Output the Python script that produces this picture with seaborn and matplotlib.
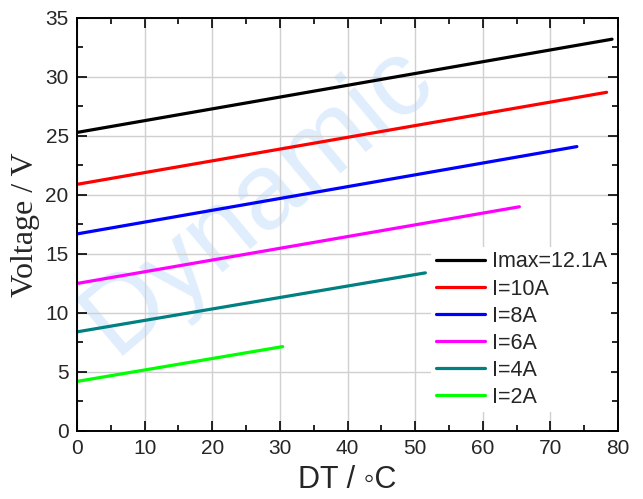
import numpy as np
import pandas as pd
import matplotlib.pyplot as plt
from matplotlib.ticker import MultipleLocator
import seaborn as sns

# ── Data ───────────────────────────────────────────────────────────────────────
labels = ["Imax=12.1A", "I=10A", "I=8A", "I=6A", "I=4A", "I=2A"]
dt_start = [0, 0, 0, 0, 0, 0]
dt_end = [79.1, 78.3, 73.9, 65.4, 51.5, 30.4]
v_start = [25.3, 20.9, 16.7, 12.5, 8.4, 4.2]
v_end = [33.2, 28.7, 24.1, 19.0, 13.4, 7.15]
colors = ["#000000", "#ff0000", "#0000ff", "#ff00ff", "#008080", "#00ff00"]

rows = []
for lab, x0, x1, y0, y1 in zip(labels, dt_start, dt_end, v_start, v_end):
    rows.append({"series": lab, "DT": x0, "V": y0})
    rows.append({"series": lab, "DT": x1, "V": y1})
df = pd.DataFrame(rows)

sns.set_style("white")
plt.rcParams["font.family"] = ["Liberation Sans", "DejaVu Sans"]

fig = plt.figure(figsize=(6.43, 4.99), dpi=100)
ax = fig.add_axes([0.1198, 0.1363, 0.8415, 0.8277])
ax.patch.set_alpha(0)

# faint watermark behind the plot
fig.text(0.40, 0.60, "Dynamic", fontsize=78, color="#dfedfc", rotation=40,
         ha="center", va="center", zorder=-1)

sns.lineplot(data=df, x="DT", y="V", hue="series", hue_order=labels,
             palette=colors, linewidth=2.3, ax=ax, legend=False)

ax.set_xlim(0, 80)
ax.set_ylim(0, 35)
ax.xaxis.set_major_locator(MultipleLocator(10))
ax.xaxis.set_minor_locator(MultipleLocator(5))
ax.yaxis.set_major_locator(MultipleLocator(5))
ax.yaxis.set_minor_locator(MultipleLocator(2.5))
ax.tick_params(which="both", direction="in", top=True, right=True,
               bottom=True, left=True, width=1.2, color="black")
ax.tick_params(which="major", length=7, labelsize=15, pad=6)
ax.tick_params(which="minor", length=4)
ax.grid(True, which="major", color="#d0d0d0", linewidth=1)
for spine in ax.spines.values():
    spine.set_edgecolor("black")
    spine.set_linewidth(1.4)

ax.set_xlabel("DT / \u25e6C", fontsize=22, labelpad=5,
              family=["Liberation Sans", "DejaVu Sans"])
ax.set_ylabel("Voltage / V", fontsize=23, family="Liberation Serif", labelpad=4)

handles = [plt.Line2D([], [], color=c, linewidth=2.3) for c in colors]
leg = ax.legend(handles, labels, loc="upper left", bbox_to_anchor=(0.655, 0.445),
                fontsize=15.5, frameon=True, facecolor="white", edgecolor="none",
                framealpha=1, handlelength=2.3, handletextpad=0.3,
                labelspacing=0.28, borderpad=0.2, borderaxespad=0)

fig.savefig("out.png", dpi=100)
plt.close()
